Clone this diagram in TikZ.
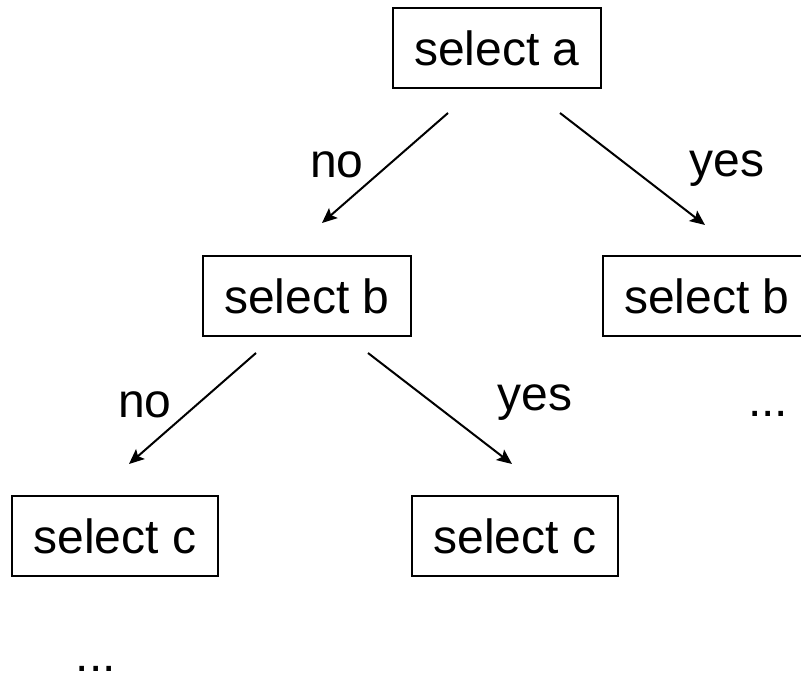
\documentclass[tikz,border=0pt]{standalone}
\usepackage{fontspec}
\setmainfont{Liberation Sans}
\usetikzlibrary{arrows.meta}
\begin{document}
\begin{tikzpicture}[x=1bp,y=-1bp,
  box/.style={draw, line width=2.2bp, minimum width=208bp, minimum height=80bp, inner sep=0pt,
    font=\fontsize{48bp}{52bp}\selectfont},
  lbl/.style={anchor=base, inner sep=0pt, font=\fontsize{48bp}{52bp}\selectfont},
  arr/.style={line width=2bp, -{Stealth[length=15bp,width=13bp,inset=3bp]}}]
\useasboundingbox (0,0) rectangle (801,677);
\clip (0,0) rectangle (801,677);
% boxes
\node[box] (A) at (497,48) {select a};
\node[box] (B1) at (307,296) {select b};
\node[box] (B2) at (707,296) {select b};
\node[box, minimum width=206bp] (C1) at (115,536) {select c};
\node[box, minimum width=206bp] (C2) at (515,536) {select c};
% connector ends
\coordinate (a1s) at (448,113);
\coordinate (a1e) at (322,223);
\coordinate (a2s) at (560,113);
\coordinate (a2e) at (705,225);
\coordinate (b1s) at (256,353);
\coordinate (b1e) at (129,464);
\coordinate (b2s) at (368,353);
\coordinate (b2e) at (512,464);
\draw[arr] (a1s) -- (a1e);
\draw[arr] (a2s) -- (a2e);
\draw[arr] (b1s) -- (b1e);
\draw[arr] (b2s) -- (b2e);
% labels
\node[lbl] (l1) at (337,177) {no};
\node[lbl] (l2) at (727,176) {yes};
\node[lbl] (l3) at (145,417) {no};
\node[lbl] (l4) at (535,410) {yes};
\node[lbl] (d1) at (768,416) {...};
\node[lbl] (d2) at (96,671) {...};
\end{tikzpicture}
\end{document}
